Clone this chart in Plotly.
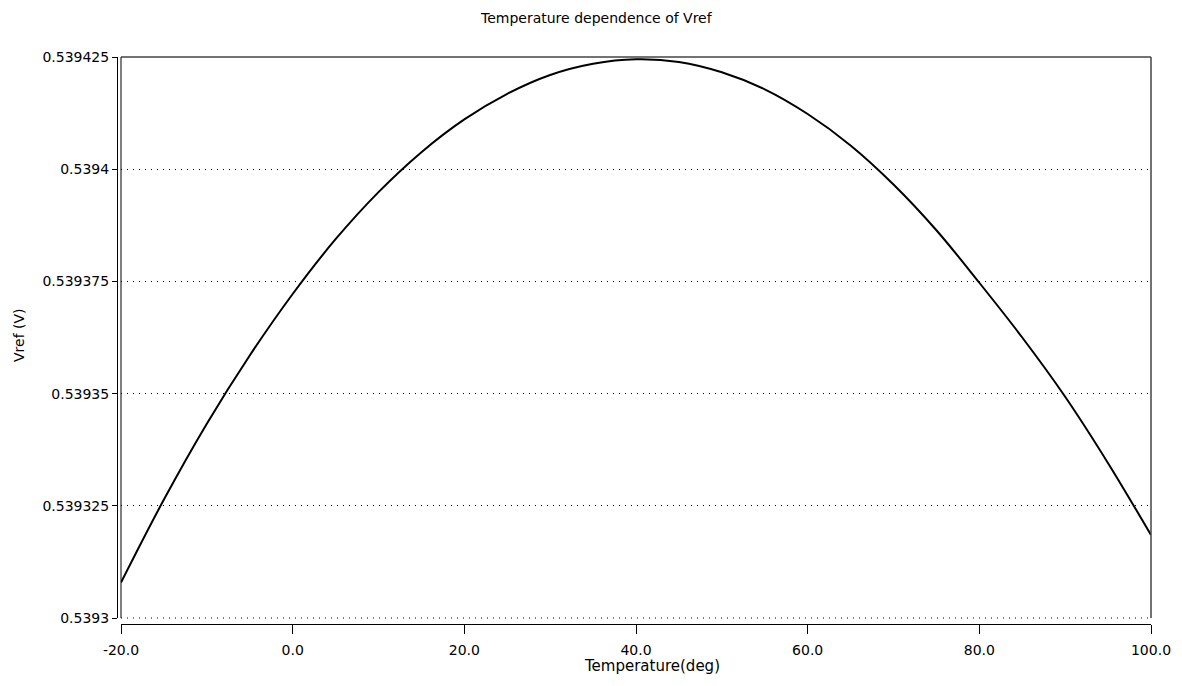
import plotly.graph_objects as go

# Data
temperature = [-20, -15, -10, -5, 0, 5, 10, 15, 20, 25, 30, 35, 40,
               45, 50, 55, 60, 65, 70, 75, 80, 85, 90, 95, 100]
vref = [0.5393079, 0.5393264, 0.5393433, 0.5393585, 0.5393722, 0.5393844,
        0.5393949, 0.5394038, 0.5394111, 0.5394168, 0.5394210, 0.5394235,
        0.5394245, 0.5394239, 0.5394216, 0.5394178, 0.5394123, 0.5394053,
        0.5393966, 0.5393864, 0.5393747, 0.5393625, 0.5393493, 0.5393345,
        0.5393185]

x_ticks = [-20, 0, 20, 40, 60, 80, 100]
x_ticklabels = ["-20.0", "0.0", "20.0", "40.0", "60.0", "80.0", "100.0"]
y_ticks = [0.5393, 0.539325, 0.53935, 0.539375, 0.5394, 0.539425]
y_ticklabels = ["0.5393", "0.539325", "0.53935", "0.539375", "0.5394", "0.539425"]

W, H = 1182, 686
ml, mr, mt, mb = 117, 31, 57, 62
pw = W - ml - mr
ph = H - mt - mb
xdom0 = 4 / pw
ydom0 = 6 / ph

FONT = "DejaVu Sans"

fig = go.Figure()
fig.add_trace(go.Scatter(
    x=temperature, y=vref, mode="lines",
    line=dict(color="black", width=2, shape="spline"),
    showlegend=False, hoverinfo="skip",
))

fig.update_layout(
    width=W, height=H,
    margin=dict(l=ml, r=mr, t=mt, b=mb),
    paper_bgcolor="white", plot_bgcolor="white",
    font=dict(family=FONT, color="black", size=13),
    xaxis=dict(
        domain=[xdom0, 1], range=[-20, 100], anchor="free", position=0,
        showline=True, linecolor="black", linewidth=1,
        ticks="outside", ticklen=9, tickcolor="black", tickwidth=1,
        tickvals=x_ticks, ticktext=x_ticklabels,
        tickfont=dict(family=FONT, size=14), ticklabelstandoff=4,
        showgrid=False, zeroline=False,
    ),
    yaxis=dict(
        domain=[ydom0, 1], range=[0.5393, 0.539425], anchor="free", position=0,
        showline=True, linecolor="black", linewidth=1,
        ticks="outside", ticklen=5, tickcolor="black", tickwidth=1,
        tickvals=y_ticks, ticktext=y_ticklabels,
        tickfont=dict(family=FONT, size=14),
        showgrid=True, gridcolor="black", gridwidth=1, griddash="1px,5px",
        zeroline=False,
    ),
    shapes=[
        dict(type="line", xref="x domain", yref="y domain", x0=0, x1=1, y0=1, y1=1,
             line=dict(color="#444444", width=1.5)),
        dict(type="line", xref="x domain", yref="y domain", x0=1, x1=1, y0=0, y1=1,
             line=dict(color="#444444", width=1.5)),
        dict(type="line", xref="x domain", yref="y domain", x0=0, x1=0, y0=0, y1=1,
             line=dict(color="black", width=1)),
        dict(type="line", xref="x domain", yref="y domain", x0=0, x1=1, y0=0, y1=0,
             line=dict(color="black", width=1, dash="1px,5px")),
    ],
    annotations=[
        dict(text="Temperature dependence of Vref", xref="paper", yref="paper",
             x=(596 - ml) / pw, y=1 + (mt - 18) / ph, xanchor="center", yanchor="middle",
             showarrow=False, font=dict(family=FONT, size=14, color="black")),
        dict(text="Temperature(deg)", xref="paper", yref="paper",
             x=(652 - ml) / pw, y=-(666 - mt - ph) / ph, xanchor="center", yanchor="middle",
             showarrow=False, font=dict(family=FONT, size=15, color="black")),
        dict(text="Vref (V)", xref="paper", yref="paper", textangle=-90,
             x=(19 - ml) / pw, y=1 - (335 - mt) / ph, xanchor="center", yanchor="middle",
             showarrow=False, font=dict(family=FONT, size=14, color="black")),
    ],
)

fig.write_html("out.html")
